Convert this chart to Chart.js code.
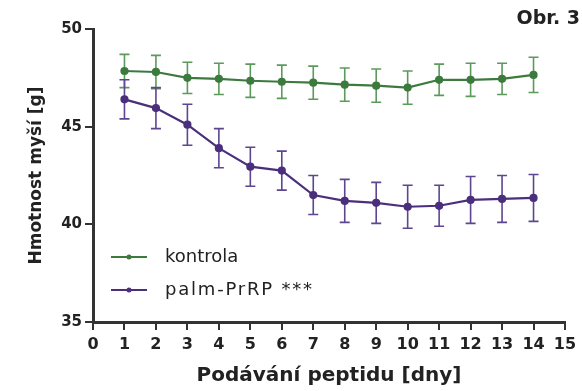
<!DOCTYPE html>
<html>
<head>
<meta charset="utf-8">
<script src="https://cdn.jsdelivr.net/npm/chart.js@4/dist/chart.umd.min.js"></script>
<style>
  html, body { margin: 0; padding: 0; background: #fff; }
  #wrap { width: 582px; height: 391px; }
</style>
</head>
<body>
<div id="wrap"><canvas id="chart" width="582" height="391"></canvas></div>
<script>
// days of treatment
var days = [1, 2, 3, 4, 5, 6, 7, 8, 9, 10, 11, 12, 13, 14];

// body weight of mice [g], mean and error
var kontrola    = [47.85, 47.8, 47.5, 47.45, 47.35, 47.3, 47.25, 47.15, 47.1, 47.0, 47.4, 47.4, 47.45, 47.65];
var kontrolaErr = [0.85, 0.85, 0.8, 0.8, 0.85, 0.85, 0.85, 0.85, 0.85, 0.85, 0.8, 0.85, 0.8, 0.9];
var palm        = [46.4, 45.95, 45.1, 43.9, 42.95, 42.75, 41.5, 41.2, 41.1, 40.9, 40.95, 41.25, 41.3, 41.35];
var palmErr     = [1.0, 1.05, 1.05, 1.0, 1.0, 1.0, 1.0, 1.1, 1.05, 1.1, 1.05, 1.2, 1.2, 1.2];

var labels = ["kontrola", "palm-PrRP ***"];
var colors = ["#3c7a3e", "#4b2f7c"];
var barColors = ["#5c9a5c", "#5e4590"];

var fontName = "'DejaVu Sans', 'Liberation Sans', Arial, sans-serif";

function toPoints(yValue)
{
    var pts = [];
    for (let i = 0; i < days.length; i++) {
        pts.push({ x: days[i], y: yValue[i] });
    }
    return pts;
}

// error bars drawn through the chart scales
var errorBars = {
    id: 'errorBars',
    beforeDatasetsDraw(chart) {
        var ctx = chart.ctx;
        var xs = chart.scales.x, ys = chart.scales.y;
        var errs = [kontrolaErr, palmErr];
        var means = [kontrola, palm];
        ctx.save();
        for (let d = 0; d < 2; d++) {
            ctx.strokeStyle = barColors[d];
            ctx.lineWidth = 1.6;
            for (let i = 0; i < days.length; i++) {
                var px = xs.getPixelForValue(days[i]);
                var top = ys.getPixelForValue(means[d][i] + errs[d][i]);
                var bot = ys.getPixelForValue(means[d][i] - errs[d][i]);
                ctx.beginPath();
                ctx.moveTo(px, top); ctx.lineTo(px, bot);
                ctx.moveTo(px - 5, top); ctx.lineTo(px + 5, top);
                ctx.moveTo(px - 5, bot); ctx.lineTo(px + 5, bot);
                ctx.stroke();
            }
        }
        ctx.restore();
    }
};

// legend inside the plot + figure label
var extras = {
    id: 'extras',
    afterDraw(chart) {
        var ctx = chart.ctx;
        ctx.save();
        var rows = [257, 290];
        var spacing = ["0px", "1.8px"];
        for (let d = 0; d < 2; d++) {
            ctx.strokeStyle = colors[d];
            ctx.lineWidth = 2;
            ctx.beginPath();
            ctx.moveTo(111, rows[d]); ctx.lineTo(147, rows[d]);
            ctx.stroke();
            ctx.fillStyle = colors[d];
            ctx.beginPath();
            ctx.arc(129, rows[d], 2.5, 0, Math.PI * 2);
            ctx.fill();
            ctx.fillStyle = "#222";
            ctx.font = "18px " + fontName;
            ctx.letterSpacing = spacing[d];
            ctx.textBaseline = "middle";
            ctx.textAlign = "left";
            ctx.fillText(labels[d], 165, rows[d]);
        }
        ctx.letterSpacing = "0px";
        ctx.font = "bold 19px " + fontName;
        ctx.textAlign = "right";
        ctx.textBaseline = "middle";
        ctx.fillStyle = "#222";
        ctx.fillText("Obr. 3", 580, 19);
        ctx.restore();
    }
};

const ctx = document.getElementById("chart").getContext("2d");
var chartId = new Chart(ctx, {
    type: 'scatter',
    data: {
        datasets: [
            {
                label: labels[0],
                data: toPoints(kontrola),
                showLine: true,
                borderColor: colors[0],
                backgroundColor: colors[0],
                borderWidth: 2.2,
                pointRadius: 3,
                pointHoverRadius: 3,
            },
            {
                label: labels[1],
                data: toPoints(palm),
                showLine: true,
                borderColor: colors[1],
                backgroundColor: colors[1],
                borderWidth: 2.2,
                pointRadius: 3,
                pointHoverRadius: 3,
            },
        ],
    },
    options: {
        responsive: false,
        animation: false,
        layout: { padding: { top: 29, right: 17, left: 8, bottom: 3 } },
        scales: {
            x: {
                type: 'linear',
                min: 0,
                max: 15,
                afterFit: function (scale) { scale.height = 66; },
                border: { color: '#333', width: 3 },
                grid: { drawOnChartArea: false, color: '#333', lineWidth: 2, tickLength: 8 },
                ticks: { stepSize: 1, color: '#222', font: { family: fontName, size: 16, weight: 'bold' }, padding: 5, maxRotation: 0 },
                title: {
                    display: true,
                    text: "Podávání peptidu [dny]",
                    color: '#222',
                    font: { family: fontName, size: 20, weight: 'bold' },
                    padding: { top: 0, bottom: 0 }
                }
            },
            y: {
                min: 35,
                max: 50,
                afterFit: function (scale) { scale.width = 85; },
                border: { color: '#333', width: 3 },
                grid: { drawOnChartArea: false, color: '#333', lineWidth: 2, tickLength: 8 },
                ticks: { stepSize: 5, color: '#222', font: { family: fontName, size: 15, weight: 'bold' }, padding: 3 },
                title: {
                    display: true,
                    text: "Hmotnost myší [g]",
                    color: '#222',
                    font: { family: fontName, size: 17, weight: 'bold' },
                    padding: { top: 18, bottom: 0 }
                }
            }
        },
        plugins: {
            legend: { display: false },
            tooltip: { enabled: false }
        }
    },
    plugins: [errorBars, extras]
});
</script>
</body>
</html>
